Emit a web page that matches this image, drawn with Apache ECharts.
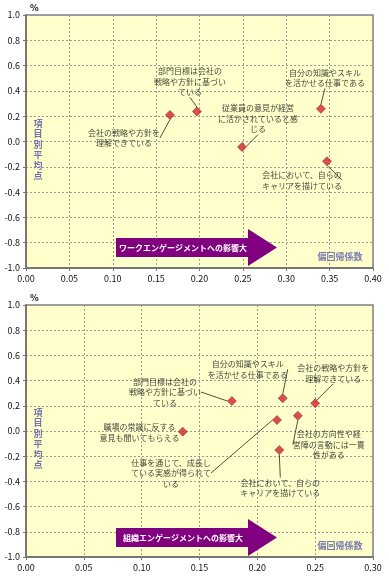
<!DOCTYPE html>
<html><head><meta charset="utf-8">
<script src="https://cdn.jsdelivr.net/npm/echarts@6/dist/echarts.min.js"></script>
<style>html,body{margin:0;padding:0;background:#fff}#c{width:389px;height:578px}</style>
</head><body><div id="c"></div>
<script>
// ---- data: top chart (work engagement) ----
var topNames = ['会社の戦略や方針を\n理解できている','部門目標は会社の\n戦略や方針に基づい\nている','従業員の意見が経営\nに活かされていると感\nじる','自分の知識やスキル\nを活かせる仕事である','会社において、自らの\nキャリアを描けている'];
var topX = [0.166, 0.197, 0.249, 0.340, 0.347];
var topY = [0.21, 0.237, -0.043, 0.258, -0.156];
// ---- data: bottom chart (organization engagement) ----
var botNames = ['部門目標は会社の\n戦略や方針に基づい\nている','自分の知識やスキル\nを活かせる仕事である','会社の戦略や方針を\n理解できている','会社の方向性や経\n営陣の言動には一貫\n性がある','仕事を通じて、成長し\nている実感が得られて\nいる','職場の常識に反する\n意見も聞いてもらえる','会社において、自らの\nキャリアを描けている'];
var botX = [0.178, 0.222, 0.250, 0.235, 0.217, 0.1355, 0.219];
var botY = [0.238, 0.26, 0.22, 0.121, 0.087, -0.005, -0.151];
var topXTicks = [0, 0.40, 0.05];
var botXTicks = [0, 0.30, 0.05];
var yTicks = [-1, 1, 0.2];
var titles = ['ワークエンゲージメントへの影響大','組織エンゲージメントへの影響大'];
var xName = '偏回帰係数';
var yName = '項目別平均点';

// label offsets (pixels) relative to each point, third value: draw leader line
var topOff = [[-46,23,1],[-7,-30,1],[16,-28,1],[4,-31,1],[-25,19,1]];
var botOff = [[-67,-9,1],[-35,-29,1],[18,-30,1],[31,29,1],[-106,53,1],[-43,1,0],[1,38,1]];
var SYM = 9;

var chart = echarts.init(document.getElementById('c'));
var F = '"Noto Sans CJK JP", "Liberation Sans", sans-serif';

function mkX(idx, t){
  return {gridIndex:idx, type:'value', min:t[0], max:t[1], interval:t[2],
    axisLine:{show:true, onZero:false, lineStyle:{color:'#777', width:2}},
    axisTick:{show:true, length:3, lineStyle:{color:'#777'}},
    axisLabel:{color:'#111', fontSize:9, fontFamily:F, margin:6, formatter:function(v){return v.toFixed(2);}},
    splitLine:{show:true, lineStyle:{color:'#9a9a9a', type:[2,2], width:1}}};
}
function mkY(idx){
  return {gridIndex:idx, type:'value', min:yTicks[0], max:yTicks[1], interval:yTicks[2],
    name:'%', nameLocation:'end', nameGap:3,
    nameTextStyle:{color:'#111', fontSize:9, fontFamily:F, fontWeight:'bold', align:'left', padding:[0,0,0,4]},
    axisLine:{show:true, lineStyle:{color:'#777', width:2}},
    axisTick:{show:true, length:3, lineStyle:{color:'#777'}},
    axisLabel:{color:'#111', fontSize:9, fontFamily:F, margin:6, formatter:function(v){return v.toFixed(1);}},
    splitLine:{show:true, lineStyle:{color:'#9a9a9a', type:[2,2], width:1}}};
}
function mkS(idx, xs, ys, names, off){
  return {type:'scatter', xAxisIndex:idx, yAxisIndex:idx,
    data: xs.map(function(x,i){
      var d = {value:[x, ys[i]], name:names[i]};
      if (!off[i][2]) d.label = {position:[off[i][0]+SYM/2, off[i][1]+SYM/2]};
      return d;
    }),
    symbol:'diamond', symbolSize:SYM,
    itemStyle:{color:'#d4222e', borderColor:'#7a0a10', borderWidth:0.6},
    label:{show:true, position:'inside', formatter:function(p){return p.name;},
      color:'#111', fontSize:8, fontFamily:F, lineHeight:10.5, align:'center', verticalAlign:'middle'},
    labelLine:{show:true, lineStyle:{color:'#222', width:0.8}},
    labelLayout:function(p){var o=off[p.dataIndex]; if(!o[2]) return {hideOverlap:false}; return {dx:o[0], dy:o[1], hideOverlap:false};},
    emphasis:{disabled:true}, z:5};
}
function arrow(yc, txt){
  return [
    {type:'polygon', shape:{points:[[116,yc-9.5],[248,yc-9.5],[248,yc-18.5],[277,yc],[248,yc+18.5],[248,yc+9.5],[116,yc+9.5]]},
      style:{fill:'#800080'}, z:10},
    {type:'text', x:183, y:yc, style:{text:txt, fill:'#fff', font:'bold 8px '+F, align:'center', verticalAlign:'middle'}, z:11}
  ];
}
function vtext(y){
  return {type:'text', x:38, y:y, style:{text:yName.split('').join('\n'), fill:'#7272ad', font:'bold 9px '+F, lineHeight:10.5, align:'center', verticalAlign:'top'}, z:10};
}
function xname(y){
  return {type:'text', x:340, y:y, style:{text:xName, fill:'#7a7aae', font:'bold 9px '+F, align:'center', verticalAlign:'middle'}, z:10};
}

chart.setOption({
  animation:false,
  grid:[
    {left:26, right:16, top:15, height:253, show:true, backgroundColor:'#ffffcc', borderColor:'#808080', borderWidth:1.5},
    {left:26, right:16, top:305, height:252, show:true, backgroundColor:'#ffffcc', borderColor:'#808080', borderWidth:1.5}
  ],
  xAxis:[mkX(0, topXTicks), mkX(1, botXTicks)],
  yAxis:[mkY(0), mkY(1)],
  series:[mkS(0, topX, topY, topNames, topOff), mkS(1, botX, botY, botNames, botOff)],
  graphic:[].concat(arrow(247.5, titles[0]), arrow(537.5, titles[1]), [vtext(118), vtext(407), xname(257), xname(546)])
});
</script></body></html>
